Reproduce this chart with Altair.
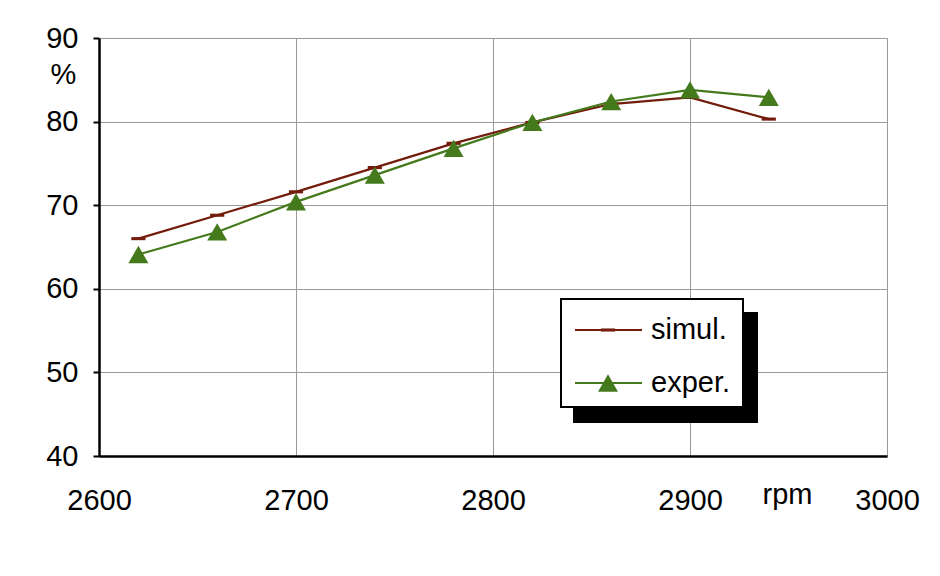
import altair as alt
import pandas as pd

rpm = [2620, 2660, 2700, 2740, 2780, 2820, 2860, 2900, 2940]
simul = [66.0, 68.8, 71.6, 74.5, 77.4, 79.9, 82.1, 82.9, 80.3]
exper = [64.1, 66.8, 70.4, 73.6, 76.8, 79.9, 82.4, 83.8, 82.9]
series = ["simul.", "exper."]
colors = ["#731c0c", "#447a1c"]
x_ticks = [2600, 2700, 2800, 2900, 3000]
y_ticks = [40, 50, 60, 70, 80, 90]

FONT = "Liberation Sans"
FS = 29

df_s = pd.DataFrame({"rpm": rpm, "val": simul})
df_e = pd.DataFrame({"rpm": rpm, "val": exper})

xs = alt.Scale(domain=[2600, 3000], nice=False, zero=False)
ys = alt.Scale(domain=[40, 90], nice=False, zero=False)

x_axis = alt.Axis(values=x_ticks, format="d", ticks=False, labelPadding=30,
                  labelFontSize=FS, labelFont=FONT, labelColor="black",
                  labelOverlap=False, labelFlush=False,
                  domainColor="black", domainWidth=2.5,
                  gridColor="#9a9a9a", gridWidth=1,
                  title="rpm", titleFont=FONT, titleFontSize=FS, titleFontWeight="normal",
                  titleColor="black", titleAnchor="start", titleAlign="center",
                  titleBaseline="alphabetic", titleX=688, titleY=47)
y_axis = alt.Axis(values=y_ticks, ticks=True, tickSize=6, tickColor="black", tickWidth=2,
                  labelPadding=15, labelFontSize=FS, labelFont=FONT, labelColor="black",
                  labelOverlap=False, labelFlush=False,
                  domainColor="black", domainWidth=2.5,
                  gridColor="#9a9a9a", gridWidth=1,
                  title="%", titleAngle=0, titleFont=FONT, titleFontSize=FS,
                  titleFontWeight="normal", titleColor="black", titleAlign="center",
                  titleBaseline="middle", titleX=-36, titleY=36)

base_x = alt.X("rpm:Q", scale=xs, axis=x_axis)
base_y = alt.Y("val:Q", scale=ys, axis=y_axis)

line_s = alt.Chart(df_s).mark_line(color=colors[0], strokeWidth=2.2).encode(x=base_x, y=base_y)
pt_s = alt.Chart(df_s).mark_point(shape="M-1,-0.22H1V0.22H-1Z", filled=True, opacity=1,
                                   color=colors[0], size=200).encode(x="rpm:Q", y="val:Q")
line_e = alt.Chart(df_e).mark_line(color=colors[1], strokeWidth=2.2).encode(x="rpm:Q", y="val:Q")
pt_e = alt.Chart(df_e).mark_point(shape="triangle-up", filled=True, opacity=1,
                                   color=colors[1], size=400).encode(x="rpm:Q", y="val:Q")

one = alt.Data(values=[{"a": 1}])

shadow = alt.Chart(one).mark_rect(color="black").encode(
    x=alt.value(474), x2=alt.value(659), y=alt.value(274), y2=alt.value(385))
box = alt.Chart(one).mark_rect(fill="white", stroke="black", strokeWidth=2).encode(
    x=alt.value(462), x2=alt.value(644), y=alt.value(261), y2=alt.value(369))

leg_rows = [292, 345]
leg_layers = []
for i, name in enumerate(series):
    yy = leg_rows[i]
    leg_layers.append(alt.Chart(one).mark_rule(color=colors[i], strokeWidth=2.2).encode(
        x=alt.value(476), x2=alt.value(543), y=alt.value(yy)))
    if i == 0:
        leg_layers.append(alt.Chart(one).mark_point(shape="M-1,-0.22H1V0.22H-1Z", filled=True,
                                                     opacity=1, color=colors[i], size=200).encode(
            x=alt.value(509), y=alt.value(yy)))
    else:
        leg_layers.append(alt.Chart(one).mark_point(shape="triangle-up", filled=True, opacity=1,
                                                     color=colors[i], size=400).encode(
            x=alt.value(509), y=alt.value(yy)))
    leg_layers.append(alt.Chart(one).mark_text(text=name, font=FONT, fontSize=FS, align="left",
                                                baseline="middle", color="black").encode(
        x=alt.value(552), y=alt.value(yy)))

chart = alt.layer(line_s, pt_s, line_e, pt_e, shadow, box, *leg_layers).properties(
    width=788, height=418,
    autosize=alt.AutoSizeParams(type="none"),
    padding={"left": 91, "top": 30, "right": 40, "bottom": 90},
).configure_view(stroke="black", strokeWidth=2.5).configure(background="white")

chart.save("out.html", embed_options={"renderer": "svg", "actions": False})
